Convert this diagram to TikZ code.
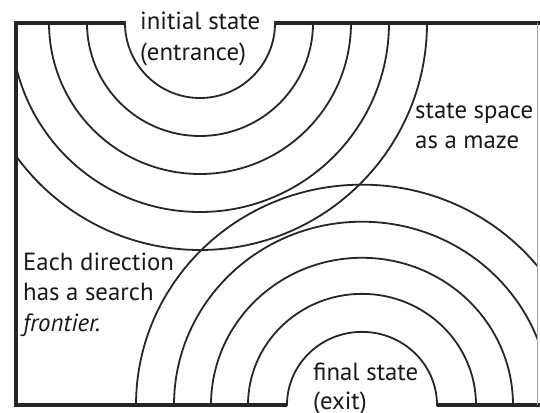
\documentclass[tikz,border=0pt]{standalone}
\usepackage{fontspec}
\setmainfont{PT Sans}
\begin{document}
\begin{tikzpicture}[x=1pt,y=-1pt,
  wall/.style={line width=3.5pt,color=black!85},
  front/.style={line width=1.8pt,color=black!85},
  lbl/.style={anchor=base west,inner sep=0pt,font=\fontsize{24.8}{30}\selectfont,text=black!90}]
\useasboundingbox (0,0) rectangle (540,412);
% search frontiers growing from both ends
\begin{scope}
  \clip (16,23) rectangle (537,405);
  \foreach \r in {75,113,151,189,227} {
    \draw[front] (200,23) circle[radius=\r];
  }
  \foreach \r in {75,114,151,188,226} {
    \draw[front] (362,405) ellipse[x radius=\r,y radius=0.975*\r];
  }
\end{scope}
% maze walls with the two openings
\draw[wall,line join=miter] (126,23) -- (16,23) -- (16,405) -- (287,405);
\draw[wall] (274,23) -- (540,23);
\draw[wall] (437,405) -- (540,405);
\draw[line width=0.8pt,color=black!35] (537,23) -- (537,405);
% labels
\node[lbl] (init1) at (140,30) {initial state};
\node[lbl] (init2) at (140,60) {(entrance)};
\node[lbl] (maze1) at (415,118) {state space};
\node[lbl] (maze2) at (415,148) {as a maze};
\node[lbl] (each1) at (23,270) {Each direction};
\node[lbl] (each2) at (23,300) {has a search};
\node[lbl] (each3) at (23,331) {\itshape frontier.};
\node[lbl] (fin1) at (313,380) {final state};
\node[lbl] (fin2) at (313,409) {(exit)};
\end{tikzpicture}
\end{document}
